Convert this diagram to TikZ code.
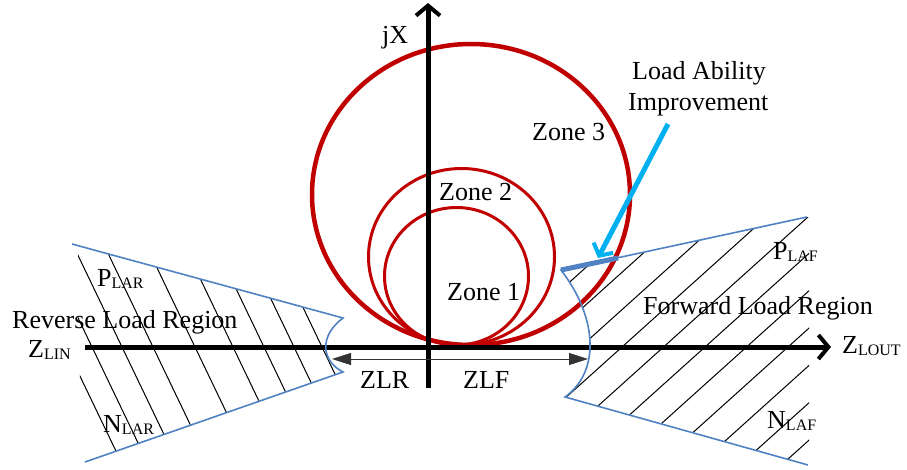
\documentclass[tikz,border=0pt]{standalone}
\usepackage{fontspec}
\setmainfont{Liberation Serif}
\usetikzlibrary{arrows.meta}
\definecolor{zred}{RGB}{192,0,0}
\definecolor{zblue}{RGB}{80,130,195}
\definecolor{zcyan}{RGB}{0,176,240}
\newcommand{\mysub}[1]{\raisebox{-2pt}{\fontsize{16}{16}\selectfont #1}}
\begin{document}
\begin{tikzpicture}[x=1pt,y=-1pt,
  lab/.style={anchor=base west,inner sep=0pt,font=\fontsize{26}{28}\selectfont},
  hatch/.style={line width=1pt,black},
  zone/.style={zred},
  bound/.style={zblue,line width=1.6pt},
  axis/.style={line width=5pt,black,-{Straight Barb[length=10pt,width=24pt,line width=4pt]}},
  dimarrow/.style={line width=0.9pt,black!80,-{Triangle[length=19pt,width=12pt]}},
  callout/.style={zcyan,line width=5pt,-{Straight Barb[length=9pt,width=22pt,line width=4pt]}}]
\useasboundingbox (0,0) rectangle (907,469);
% ---------- left hatch (reverse load region)
\begin{scope}
  \clip (72,244) -- (343,318) .. controls (320,335) and (320,360) .. (343,372) -- (85,462) -- cycle;
  \clip (78,0) rectangle (400,469);
  \foreach \c in {322,294,264,233,195,153,122,92,66}
    \draw[hatch] (\c-0.48*150,347-150) -- (\c+0.48*150,347+150);
\end{scope}
% ---------- right hatch (forward load region)
\begin{scope}
  \clip (561,270) -- (807,217) -- (809,217) -- (809,466) -- (808,465) -- (565,397) .. controls (600,372) and (598,318) .. (561,270);
  \foreach \c in {497.5,539,580.5,622,663.5,705,746.5,788,829.5,871,912.5,954}
    \draw[hatch] (\c-300,347+270) -- (\c+300,347-270);
\end{scope}
% ---------- zone circles
\draw[zone,line width=4.5pt] (471,194.5) ellipse [x radius=159pt, y radius=150.5pt];
\draw[zone,line width=3pt] (461.5,256.75) ellipse [x radius=93pt, y radius=88.25pt];
\draw[zone,line width=3pt] (456.5,276.25) ellipse [x radius=72pt, y radius=68.75pt];
% ---------- axes
\coordinate (xs) at (85,347);
\coordinate (xe) at (831,347);
\coordinate (ys) at (428,388);
\coordinate (ye) at (428,3);
\draw[axis] (xs) -- (xe);
\draw[axis] (ys) -- (ye);
% ---------- load region boundaries
\coordinate (lt) at (72,244);
\coordinate (ltc) at (343,318);
\coordinate (lbc) at (343,372);
\coordinate (lb) at (85,462);
\draw[bound] (lt) -- (ltc) .. controls (320,335) and (320,360) .. (lbc) -- (lb);
\coordinate (rt) at (807,217);
\coordinate (rtc) at (561,270);
\coordinate (rbc) at (565,397);
\coordinate (rb) at (808,465);
\coordinate (rthk) at (618,258);
\draw[bound] (rt) -- (rtc) .. controls (598,318) and (600,372) .. (rbc) -- (rb);
\draw[zblue,line width=5pt] (rtc) -- (rthk);
% ---------- ZLR / ZLF
\coordinate (o) at (428,359);
\coordinate (zlrend) at (332,359);
\coordinate (zlfend) at (588,359);
\draw[dimarrow] (o) -- (zlrend);
\draw[dimarrow] (o) -- (zlfend);
% ---------- load ability callout
\coordinate (cs) at (668,124);
\coordinate (ce) at (598,258);
\draw[callout] (cs) -- (ce);
% ---------- labels
\node[lab] (jx) at (382,43) {jX};
\node[lab] (z3) at (532,140) {Zone 3};
\node[lab] (z2) at (439,200) {Zone 2};
\node[lab] (z1) at (447,300) {Zone 1};
\node[lab] (la1) at (632,79) {Load Ability};
\node[lab] (la2) at (628,110) {Improvement};
\node[lab] (plar) at (97,286) {P\mysub{LAR}};
\node[lab] (rlr) at (12,328) {Reverse Load Region};
\node[lab] (zlin) at (28,357) {Z\mysub{LIN}};
\node[lab] (nlar) at (103,432) {N\mysub{LAR}};
\node[lab] (plaf) at (773,259) {P\mysub{LAF}};
\node[lab] (flr) at (643,314) {Forward Load Region};
\node[lab] (zlout) at (842,353) {Z\mysub{LOUT}};
\node[lab] (nlaf) at (767,428) {N\mysub{LAF}};
\node[lab] (zlr) at (360,388) {ZLR};
\node[lab] (zlf) at (463,388) {ZLF};
\end{tikzpicture}
\end{document}
